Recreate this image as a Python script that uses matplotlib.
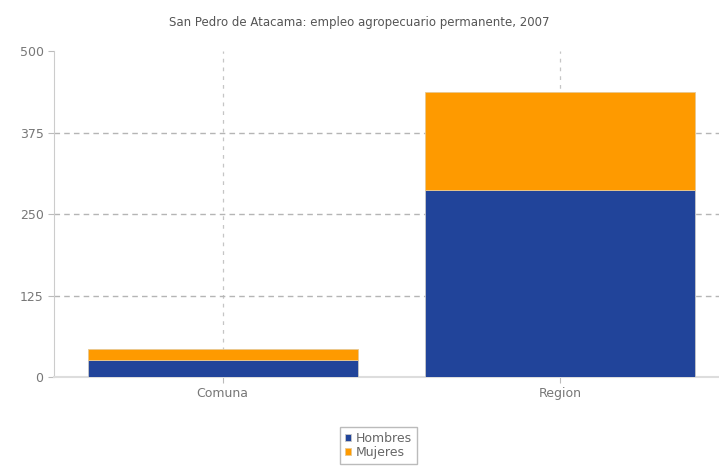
import matplotlib
matplotlib.use("Agg")
import matplotlib.pyplot as plt

categorias = ["Comuna", "Region"]
hombres = [26, 287]
mujeres = [17, 150]
ticks_y = [0, 125, 250, 375, 500]

azul = "#21449a"
naranja = "#fe9a00"
gris = "#777777"

fig = plt.figure(figsize=(7.19, 4.69), dpi=100)
ax = fig.add_axes([0.075, 0.196, 0.925, 0.695])

x = range(len(categorias))
ax.bar(x, hombres, width=0.8, color=azul, edgecolor="#c8c8c8", linewidth=0.6, label="Hombres", zorder=3)
ax.bar(x, mujeres, width=0.8, bottom=hombres, color=naranja, edgecolor="#e8c890",
       linewidth=0.6, label="Mujeres", zorder=3)

ax.set_xlim(-0.5, 1.47)
ax.set_ylim(0, 500)
ax.set_yticks(ticks_y)
ax.set_xticks(list(x))
ax.set_xticklabels(categorias)
ax.tick_params(axis="both", colors="#bbbbbb", labelcolor=gris, labelsize=9, length=4)

ax.grid(True, axis="y", color="#b5b5b5", linestyle=(0, (4, 3)), linewidth=1)
ax.grid(True, axis="x", color="#c5c5c5", linestyle=(0, (3, 4)), linewidth=0.9)
ax.yaxis.get_gridlines()[-1].set_visible(False)
ax.set_axisbelow(True)
for s in ["top", "right"]:
    ax.spines[s].set_visible(False)
ax.spines["left"].set_color("#cccccc")
ax.spines["bottom"].set_color("#dddddd")
ax.spines["bottom"].set_linewidth(1.5)

fig.suptitle("San Pedro de Atacama: empleo agropecuario permanente, 2007",
             y=0.965, fontsize=8.5, color="#555555")

leg = fig.legend(loc="center", bbox_to_anchor=(0.526, 0.0505), ncol=1, fontsize=9,
                 handlelength=0.5, handleheight=0.5, handletextpad=0.35,
                 borderpad=0.4, labelspacing=0.05, frameon=True, fancybox=False,
                 shadow=False, borderaxespad=0)
leg.get_frame().set_edgecolor("#aaaaaa")
for t in leg.get_texts():
    t.set_color("#666666")

fig.savefig("out.png", dpi=100)
